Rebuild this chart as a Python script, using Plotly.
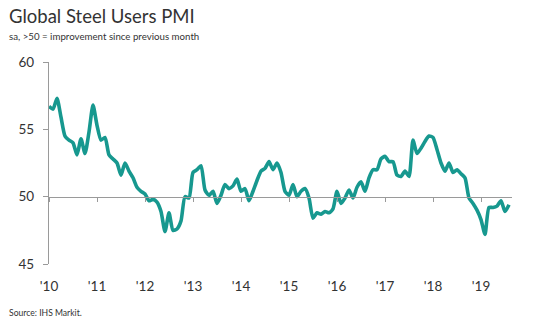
import plotly.graph_objects as go

# Global Steel Users PMI, monthly Jan 2010 - Aug 2019
start_year = 2010
pmi = [
    # 2010
    56.7, 56.5, 57.3, 55.9, 54.5, 54.2, 54.0, 53.1, 54.3, 53.2, 54.8, 56.8,
    # 2011
    55.3, 54.2, 54.4, 53.1, 52.8, 52.5, 51.6, 52.5, 51.9, 51.4, 50.7, 50.4,
    # 2012
    50.2, 49.7, 49.8, 49.6, 48.9, 47.4, 48.8, 47.5, 47.6, 48.2, 50.0, 49.9,
    # 2013
    51.8, 52.0, 52.3, 50.5, 50.1, 50.4, 49.5, 50.1, 50.9, 50.6, 50.8, 51.3,
    # 2014
    50.4, 50.6, 49.7, 50.4, 51.2, 51.9, 52.1, 52.6, 52.0, 52.5, 51.8, 50.4,
    # 2015
    50.1, 50.9, 50.0, 50.4, 50.6, 49.9, 48.4, 48.8, 48.7, 48.9, 48.8, 49.1,
    # 2016
    50.4, 49.5, 49.9, 50.5, 49.9, 50.7, 51.1, 50.4, 51.4, 52.0, 52.0, 52.8,
    # 2017
    53.0, 52.6, 52.6, 51.6, 51.5, 51.9, 51.5, 54.2, 53.2, 53.6, 54.1, 54.5,
    # 2018
    54.4, 53.5, 52.5, 51.9, 52.5, 51.8, 52.0, 51.7, 51.4, 49.9, 49.5, 49.0,
    # 2019
    48.3, 47.2, 49.2, 49.2, 49.3, 49.7, 48.9, 49.4,
]
year_ticks = list(range(2010, 2020))
year_labels = ["'10", "'11", "'12", "'13", "'14", "'15", "'16", "'17", "'18", "'19"]
y_ticks = [45, 50, 55, 60]

months = [start_year + i / 12 for i in range(len(pmi))]

W, H = 536, 329
L, R, T, B = 49, 24, 62, 65
ph = H - T - B
pw = W - L - R

teal = "#17988f"
grey = "#9a9a9a"
font = "Lato, 'Open Sans', sans-serif"

fig = go.Figure()
fig.add_trace(go.Scatter(
    x=months, y=pmi, mode="lines",
    line=dict(color=teal, width=3.6, shape="spline", smoothing=0.6),
    showlegend=False, hoverinfo="skip",
))
# helper trace so the 50-level axis gets drawn
fig.add_trace(go.Scatter(
    x=[start_year], y=[50], xaxis="x2", mode="markers",
    marker=dict(opacity=0), showlegend=False, hoverinfo="skip",
))

xr = [2010, 2010 + pw / 48.0]
fig.update_layout(
    width=W, height=H,
    margin=dict(l=L, r=R, t=T, b=B),
    paper_bgcolor="white", plot_bgcolor="white",
    font=dict(family=font, color="#333333"),
    xaxis=dict(
        range=xr, showgrid=False, zeroline=False, showline=False,
        tickvals=year_ticks, ticktext=year_labels, ticks="",
        tickfont=dict(size=13.5, color="#333333"),
        ticklabelstandoff=12,
    ),
    xaxis2=dict(
        range=xr, overlaying="x", matches="x", anchor="free",
        position=(50 - 45) / 15, showgrid=False, zeroline=False,
        showline=True, linecolor=grey, linewidth=1.3,
        tickvals=year_ticks, ticks="outside", ticklen=4, tickcolor=grey,
        showticklabels=False,
    ),
    yaxis=dict(
        range=[45, 60], showgrid=False, zeroline=False,
        showline=True, linecolor=grey, linewidth=1.3,
        tickvals=y_ticks, ticks="outside", ticklen=5, tickcolor=grey,
        tickfont=dict(size=13.5, color="#333333"),
        ticklabelstandoff=6,
    ),
    annotations=[
        dict(text="Global Steel Users PMI", xref="paper", yref="paper",
             x=(7 - L) / pw, y=(H - B - 16) / ph, xanchor="left", yanchor="middle",
             showarrow=False, font=dict(size=18.5, color="#333333", family=font)),
        dict(text="sa, >50 = improvement since previous month", xref="paper", yref="paper",
             x=(7 - L) / pw, y=(H - B - 36) / ph, xanchor="left", yanchor="middle",
             showarrow=False, font=dict(size=9.7, color="#333333", family=font)),
        dict(text="Source: IHS Markit.", xref="paper", yref="paper",
             x=(7 - L) / pw, y=(H - B - 313) / ph, xanchor="left", yanchor="middle",
             showarrow=False, font=dict(size=8.6, color="#333333", family=font)),
    ],
)

fig.write_html("out.html")
